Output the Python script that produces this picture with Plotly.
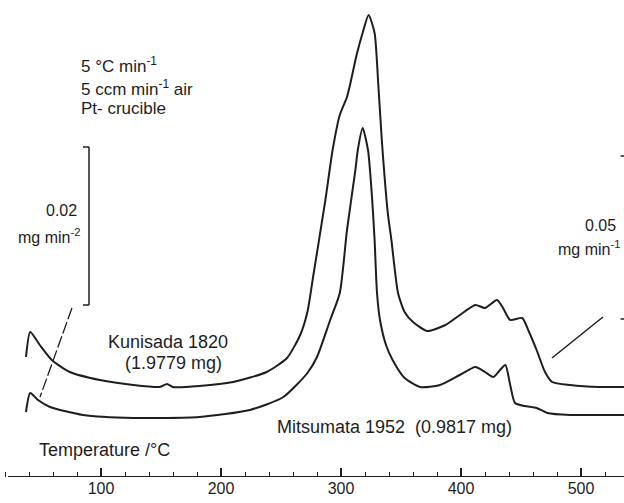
import plotly.graph_objects as go

# Temperature (°C) and DTG signal height (relative units)
kunisada_T = [37.5, 41, 49, 59, 74, 99, 127, 149, 155, 160, 182, 210, 238, 255, 266, 272, 277, 287,
              293, 299, 305, 307.5, 313, 318, 323, 328, 331, 334, 339, 342, 347.5, 353, 360, 372,
              387, 399, 412, 420, 430, 435, 441, 451, 456, 463, 470, 476, 491, 516, 536]
kunisada_h = [120, 145, 132, 117, 105, 97, 92, 90, 93, 90, 91, 95, 105, 119, 142, 165, 202, 277,
              327, 362, 380, 392, 422, 444, 462, 444, 394, 337, 264, 237, 184, 165, 155, 146,
              152, 162, 172, 169, 177, 169, 157, 159, 147, 127, 105, 95, 92, 90, 90]

mitsumata_T = [37.5, 41, 47.5, 57.5, 85, 127, 182, 224, 252, 272, 280, 291, 299, 305, 312, 314, 318,
               322.5, 326, 328, 330, 332.5, 337.5, 343, 353, 366, 382.5, 399, 412, 420, 427, 432.5,
               437, 441, 445, 453, 463, 472, 491, 516, 536]
mitsumata_h = [65, 84, 77, 70, 62, 59, 60, 67, 80, 104, 120, 157, 184, 247, 307, 327, 349,
               327, 277, 237, 184, 157, 132, 117, 99, 90, 92, 102, 110, 105, 100, 107,
               112, 92, 74, 71, 69, 64, 62, 62, 62]

tick_vals = [100, 200, 300, 400, 500]
tick_text = ["100", "200", "300", "400", "500"]

INK = "#1e1e1e"
FONT = "Liberation Sans, Arial, sans-serif"

fig = go.Figure()
fig.add_trace(go.Scatter(x=kunisada_T, y=kunisada_h, mode="lines",
                         line=dict(color=INK, width=2, shape="spline", smoothing=0.6),
                         name="Kunisada 1820", showlegend=False, hoverinfo="skip"))
fig.add_trace(go.Scatter(x=mitsumata_T, y=mitsumata_h, mode="lines",
                         line=dict(color=INK, width=2, shape="spline", smoothing=0.6),
                         name="Mitsumata 1952", showlegend=False, hoverinfo="skip"))

shapes = [
    # axis line
    dict(type="line", x0=22.5, x1=536, y0=0, y1=0, line=dict(color=INK, width=2)),
    # left scale bar (0.02 mg min^-2)
    dict(type="line", x0=90, x1=90, y0=172, y1=330, line=dict(color=INK, width=1.5)),
    dict(type="line", x0=85, x1=90, y0=330, y1=330, line=dict(color=INK, width=1.5)),
    dict(type="line", x0=85, x1=90, y0=172, y1=172, line=dict(color=INK, width=1.5)),
    # right scale bar marks (0.05 mg min^-1)
    dict(type="line", x0=533, x1=536, y0=321, y1=321, line=dict(color=INK, width=1.5)),
    dict(type="line", x0=533, x1=536, y0=158, y1=158, line=dict(color=INK, width=1.5)),
    # leader lines
    dict(type="line", x0=75.8, x1=49.2, y0=169, y1=80,
         line=dict(color=INK, width=1.3, dash="12px,3px")),
    dict(type="line", x0=475.8, x1=518.3, y0=119, y1=160, line=dict(color=INK, width=1.5)),
]

def ann(text, x, y, anchor="left", size=18):
    return dict(text=text, x=x, y=y, xref="x", yref="y", showarrow=False,
                xanchor=anchor, yanchor="middle", font=dict(size=size, color=INK, family=FONT))

annotations = [
    ann("5 °C min<sup>-1</sup>", 82, 412, size=17),
    ann("5 ccm min<sup>-1</sup> air", 82, 389, size=17),
    ann("Pt- crucible", 82, 369, size=17),
    ann("0.02", 82, 267, anchor="right", size=16),
    ann("mg min<sup>-2</sup>", 84, 241, anchor="right", size=16),
    ann("0.05", 531, 252, anchor="right", size=16),
    ann("mg min<sup>-1</sup>", 534, 229, anchor="right", size=16),
    ann("Kunisada 1820", 156, 135, anchor="center"),
    ann("(1.9779 mg)", 160, 114, anchor="center"),
    ann("Mitsumata 1952  (0.9817 mg)", 245, 50),
    ann("Temperature /°C", 47, 27),
]

fig.update_layout(
    width=624, height=503,
    margin=dict(l=0, r=0, t=0, b=26),
    paper_bgcolor="white", plot_bgcolor="white",
    shapes=shapes, annotations=annotations,
    xaxis=dict(range=[15.83, 535.83], showgrid=False, zeroline=False, showline=False,
               tickmode="array", tickvals=tick_vals, ticktext=tick_text,
               ticks="inside", ticklen=9, tickwidth=1.5, tickcolor=INK,
               minor=dict(dtick=20, tick0=0, ticks="inside", ticklen=5, tickwidth=1.2, tickcolor=INK),
               tickfont=dict(size=16, color=INK, family=FONT), fixedrange=True),
    yaxis=dict(range=[0, 477], visible=False, fixedrange=True),
)

fig.write_html("out.html")
